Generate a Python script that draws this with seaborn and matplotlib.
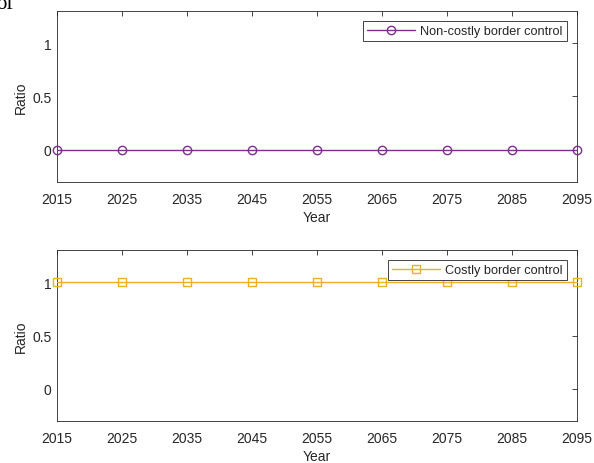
import matplotlib
matplotlib.use("Agg")
import matplotlib.pyplot as plt
import seaborn as sns
import pandas as pd

# Simulated ratio under two border-control regimes
years = [2015, 2025, 2035, 2045, 2055, 2065, 2075, 2085, 2095]
non_costly = [0, 0, 0, 0, 0, 0, 0, 0, 0]
costly = [1, 1, 1, 1, 1, 1, 1, 1, 1]
year_ticks = [2015, 2025, 2035, 2045, 2055, 2065, 2075, 2085, 2095]
ratio_ticks = [0, 0.5, 1]
ratio_tick_labels = ["0", "0.5", "1"]

sns.set_style("white")
plt.rcParams["font.family"] = ["Liberation Sans", "DejaVu Sans"]

ink = "#262626"
purple = "#7E2F8E"
gold = "#EDB120"

fig = plt.figure(figsize=(5.94, 4.64), dpi=100)
ax_top = fig.add_axes([0.096, 0.606, 0.875, 0.368])
ax_bot = fig.add_axes([0.096, 0.0905, 0.875, 0.3685])

panels = [
    (ax_top, non_costly, "Non-costly border control", purple, "o"),
    (ax_bot, costly, "Costly border control", gold, "s"),
]

for ax, values, label, color, marker in panels:
    df = pd.DataFrame({"Year": years, "Ratio": values})
    sns.lineplot(data=df, x="Year", y="Ratio", ax=ax, color=color,
                 marker=marker, markersize=6, markerfacecolor="none",
                 markeredgecolor=color, markeredgewidth=1.0, linewidth=1.0,
                 label=label, clip_on=False, zorder=5)
    ax.set_xlim(2015, 2095)
    ax.set_ylim(-0.3, 1.3)
    ax.set_xticks(year_ticks)
    ax.set_yticks(ratio_ticks)
    ax.set_yticklabels(ratio_tick_labels)
    ax.set_xlabel("Year", fontsize=10, color=ink, labelpad=3)
    ax.set_ylabel("Ratio", fontsize=10, color=ink, labelpad=3)
    ax.tick_params(direction="in", length=3.5, width=0.6, colors=ink,
                   labelsize=10, top=True, right=True)
    ax.tick_params(axis="x", pad=7)
    ax.tick_params(axis="y", pad=4)
    for side in ["top", "bottom", "left", "right"]:
        ax.spines[side].set_visible(True)
        ax.spines[side].set_color(ink)
        ax.spines[side].set_linewidth(0.6)
    leg = ax.legend(loc="upper right", fontsize=9.2, frameon=True, fancybox=False,
                    handlelength=3.75, borderaxespad=0.8, borderpad=0.3,
                    handletextpad=0.4, edgecolor=ink, framealpha=1)
    leg.get_frame().set_linewidth(0.6)

fig.text(-0.006, 0.9806, "of", fontsize=15, family="Liberation Serif",
         color="black", va="baseline", ha="left")

fig.savefig("out.png", dpi=100)
